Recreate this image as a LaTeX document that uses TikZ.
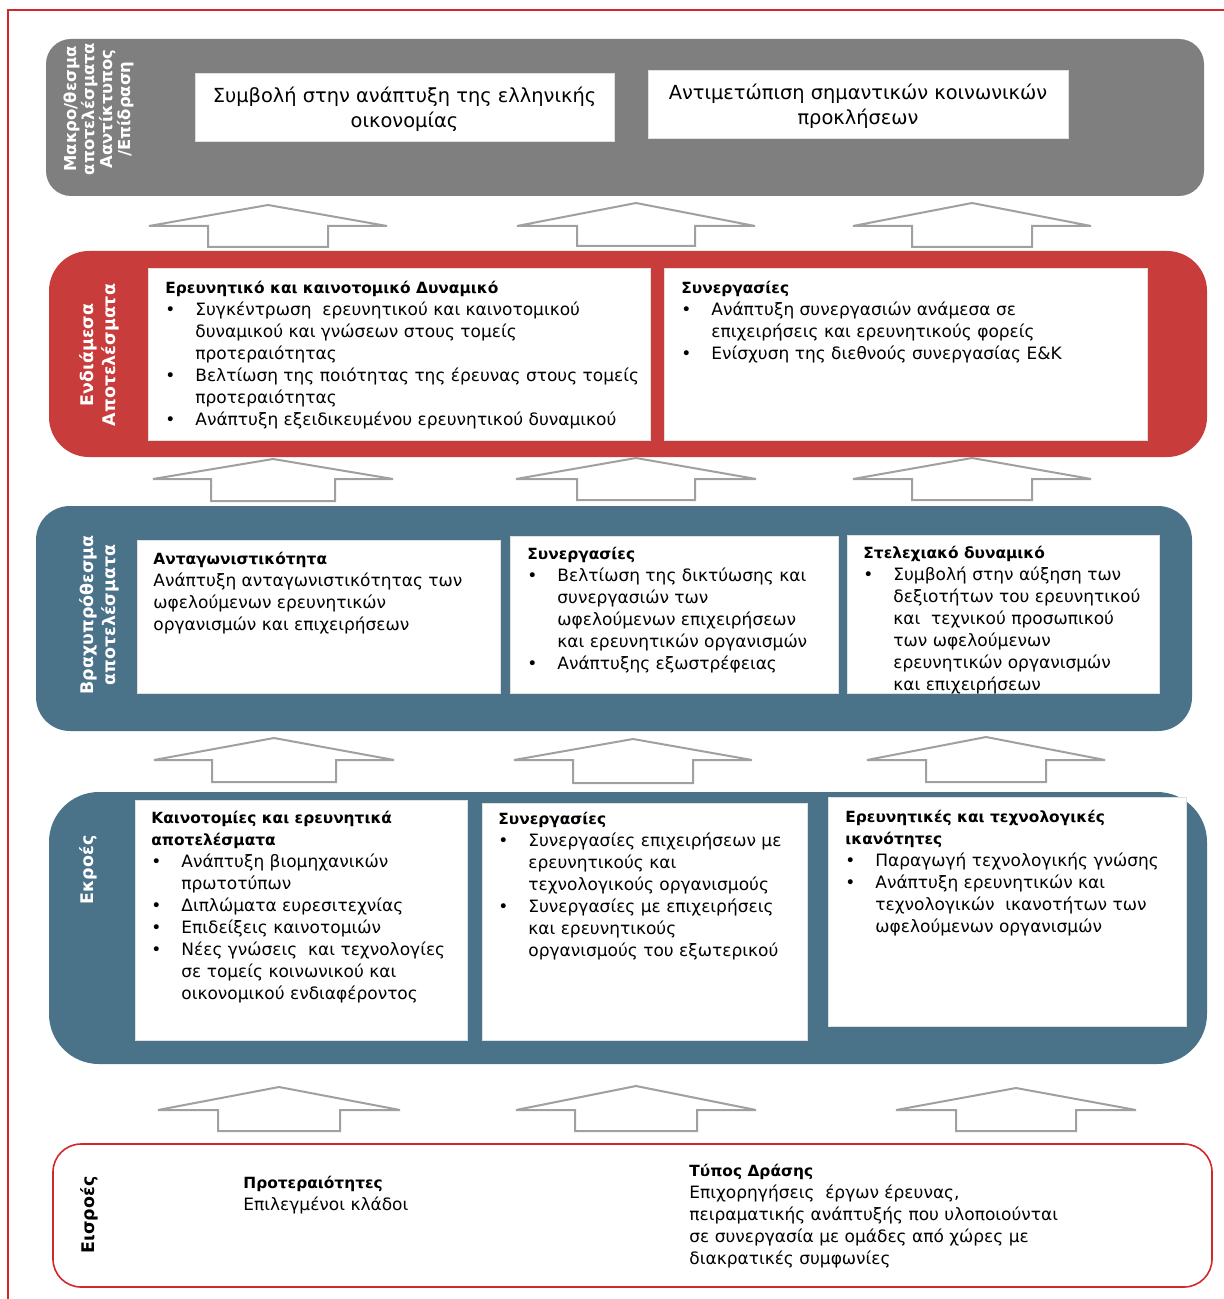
\documentclass[tikz,border=0pt]{standalone}
\usepackage{fontspec}
\setmainfont{DejaVu Sans}
\definecolor{panelgrey}{RGB}{127,127,127}
\definecolor{panelred}{RGB}{200,60,60}
\definecolor{panelblue}{RGB}{74,114,137}
\definecolor{arrowgrey}{RGB}{160,160,160}
\definecolor{framered}{RGB}{210,40,45}
\newcommand\bitem[1]{\makebox[15pt][l]{•}#1}
\newcommand\bcont[1]{\hspace*{15pt}#1}
\newcommand\ttl[1]{{\bfseries\fontsize{7.7}{11}\selectfont #1}}
\newcommand\uparr[6]{\draw[uparrow] ({#1-#5},#6) -- ({#1-#5},#4) -- ({#1-#3},#4) -- (#1,#2) -- ({#1+#3},#4) -- ({#1+#5},#4) -- ({#1+#5},#6) -- cycle;}
\begin{document}
\begin{tikzpicture}[x=0.5pt,y=-0.5pt,
  panel/.style={rectangle,inner sep=0,draw=none},
  wbox/.style={rectangle,fill=white,inner sep=0,draw=black!12,line width=0.3pt},
  txt/.style={anchor=north west,inner sep=0,align=left,font=\fontsize{8.5}{11}\selectfont},
  toptxt/.style={inner sep=0,align=center,font=\fontsize{9.7}{12.5}\selectfont},
  vlab/.style={rotate=90,text=white,font=\bfseries\fontsize{8.7}{11}\selectfont,align=center,inner sep=0},
  uparrow/.style={draw=arrowgrey,line width=1pt,fill=white,line join=miter}]
\useasboundingbox (0,0) rectangle (1223,1299);
\fill[white] (0,0) rectangle (1223,1299);
% outer frame
\draw[framered,line width=0.8pt] (8,1310) -- (8,10) -- (1235,10);

% ---------- Macro level (grey)
\node[panel,fill=panelgrey,rounded corners=12.5pt,minimum width=579pt,minimum height=78.5pt] (macro) at (625,117.5) {};
\node[vlab,font=\bfseries\fontsize{8.2}{9}\selectfont] (macrolab) at (99,109) {Μακρο/θεσμα\\αποτελέσματα\\Ααντίκτυπος\\/Επίδραση};
\node[wbox,minimum width=209.5pt,minimum height=34pt] (m1) at (404.5,107) {};
\node[wbox,minimum width=210pt,minimum height=34pt] (m2) at (858,104) {};
\node[toptxt] (m1t) at (404.5,109.5) {Συμβολή στην ανάπτυξη της ελληνικής\\οικονομίας};
\node[toptxt] (m2t) at (858,106) {Αντιμετώπιση σημαντικών κοινωνικών\\προκλήσεων};

% arrows row 1
\uparr{268}{205}{119}{226}{60}{247}
\uparr{636}{203}{119}{226}{59}{246}
\uparr{972}{203}{119}{226}{60}{247}

% ---------- Intermediate (red)
\node[panel,fill=panelred,rounded corners=20pt,minimum width=579pt,minimum height=103pt] (inter) at (628,354) {};
\node[vlab] (interlab) at (99,355) {Ενδιάμεσα\\Αποτελέσματα};
\node[wbox,minimum width=251pt,minimum height=86pt] (r1) at (399,354) {};
\node[wbox,minimum width=241.5pt,minimum height=86pt] (r2) at (905.5,354) {};
\node[txt] (r1t) at (165,281) {\ttl{Ερευνητικό και καινοτομικό Δυναμικό}\\
\bitem{Συγκέντρωση\ \ ερευνητικού και καινοτομικού}\\
\bcont{δυναμικού και γνώσεων στους τομείς}\\
\bcont{προτεραιότητας}\\
\bitem{Βελτίωση της ποιότητας της έρευνας στους τομείς}\\
\bcont{προτεραιότητας}\\
\bitem{Ανάπτυξη εξειδικευμένου ερευνητικού δυναμικού}};
\node[txt] (r2t) at (681,281) {\ttl{Συνεργασίες}\\
\bitem{Ανάπτυξη συνεργασιών ανάμεσα σε}\\
\bcont{επιχειρήσεις και ερευνητικούς φορείς}\\
\bitem{Ενίσχυση της διεθνούς συνεργασίας Ε\&Κ}};

% arrows row 2
\uparr{273}{459}{120}{479}{62}{501}
\uparr{636}{458}{120}{479}{59}{500}
\uparr{972}{458}{119}{479}{60}{500}

% ---------- Short term (blue)
\node[panel,fill=panelblue,rounded corners=17pt,minimum width=578pt,minimum height=112.5pt] (short) at (614,618.5) {};
\node[vlab] (shortlab) at (99,615) {Βραχυπρόθεσμα\\αποτελέσματα};
\node[wbox,minimum width=181.5pt,minimum height=76.5pt] (b1) at (318.5,616.5) {};
\node[wbox,minimum width=164pt,minimum height=78.5pt] (b2) at (674,614.5) {};
\node[wbox,minimum width=156pt,minimum height=79pt] (b3) at (1003,614) {};
\node[txt] (b1t) at (153,552) {\ttl{Ανταγωνιστικότητα}\\
Ανάπτυξη ανταγωνιστικότητας των\\
ωφελούμενων ερευνητικών\\
οργανισμών και επιχειρήσεων};
\node[txt] (b2t) at (527,547) {\ttl{Συνεργασίες}\\
\bitem{Βελτίωση της δικτύωσης και}\\
\bcont{συνεργασιών των}\\
\bcont{ωφελούμενων επιχειρήσεων}\\
\bcont{και ερευνητικών οργανισμών}\\
\bitem{Ανάπτυξης εξωστρέφειας}};
\node[txt] (b3t) at (863,546) {\ttl{Στελεχιακό δυναμικό}\\
\bitem{Συμβολή στην αύξηση των}\\
\bcont{δεξιοτήτων του ερευνητικού}\\
\bcont{και\ \ τεχνικού προσωπικού}\\
\bcont{των ωφελούμενων}\\
\bcont{ερευνητικών οργανισμών}\\
\bcont{και επιχειρήσεων}};

% arrows row 3
\uparr{274}{738}{120}{760}{62}{782}
\uparr{633}{739}{119}{760}{60}{783}
\uparr{986}{737}{119}{760}{60}{782}

% ---------- Outputs (blue)
\node[panel,fill=panelblue,rounded corners=25pt,minimum width=579pt,minimum height=136pt] (outp) at (628,928) {};
\node[vlab] (outplab) at (88,870) {Εκροές};
\node[wbox,minimum width=166pt,minimum height=120pt] (e1) at (301,920) {};
\node[wbox,minimum width=162.5pt,minimum height=118.5pt] (e2) at (644.5,921.5) {};
\node[wbox,minimum width=179pt,minimum height=114.5pt] (e3) at (1007,911.5) {};
\node[txt] (e1t) at (151,811) {\ttl{Καινοτομίες και ερευνητικά}\\
\ttl{αποτελέσματα}\\
\bitem{Ανάπτυξη βιομηχανικών}\\
\bcont{πρωτοτύπων}\\
\bitem{Διπλώματα ευρεσιτεχνίας}\\
\bitem{Επιδείξεις καινοτομιών}\\
\bitem{Νέες γνώσεις\ \ και τεχνολογίες}\\
\bcont{σε τομείς κοινωνικού και}\\
\bcont{οικονομικού ενδιαφέροντος}};
\node[txt] (e2t) at (498,812) {\ttl{Συνεργασίες}\\
\bitem{Συνεργασίες επιχειρήσεων με}\\
\bcont{ερευνητικούς και}\\
\bcont{τεχνολογικούς οργανισμούς}\\
\bitem{Συνεργασίες με επιχειρήσεις}\\
\bcont{και ερευνητικούς}\\
\bcont{οργανισμούς του εξωτερικού}};
\node[txt] (e3t) at (845,810) {\ttl{Ερευνητικές και τεχνολογικές}\\
\ttl{ικανότητες}\\
\bitem{Παραγωγή τεχνολογικής γνώσης}\\
\bitem{Ανάπτυξη ερευνητικών και}\\
\bcont{τεχνολογικών\ \ ικανοτήτων των}\\
\bcont{ωφελούμενων οργανισμών}};

% arrows row 4
\uparr{279}{1087}{121}{1110}{61}{1131}
\uparr{636}{1086}{120}{1110}{61}{1131}
\uparr{1016}{1088}{120}{1110}{60}{1131}

% ---------- Inputs
\node[panel,draw=framered,line width=0.8pt,fill=white,rounded corners=14pt,minimum width=579.5pt,minimum height=71.5pt] (inp) at (632.5,1215.5) {};
\node[vlab,text=black] (inplab) at (89,1215) {Εισροές};
\node[txt] (i1t) at (243,1176) {\ttl{Προτεραιότητες}\\Επιλεγμένοι κλάδοι};
\node[txt] (i2t) at (689,1164) {\ttl{Τύπος Δράσης}\\
Επιχορηγήσεις\ \ έργων έρευνας,\\
πειραματικής ανάπτυξής που υλοποιούνται\\
σε συνεργασία με ομάδες από χώρες με\\
διακρατικές συμφωνίες};
\end{tikzpicture}
\end{document}
